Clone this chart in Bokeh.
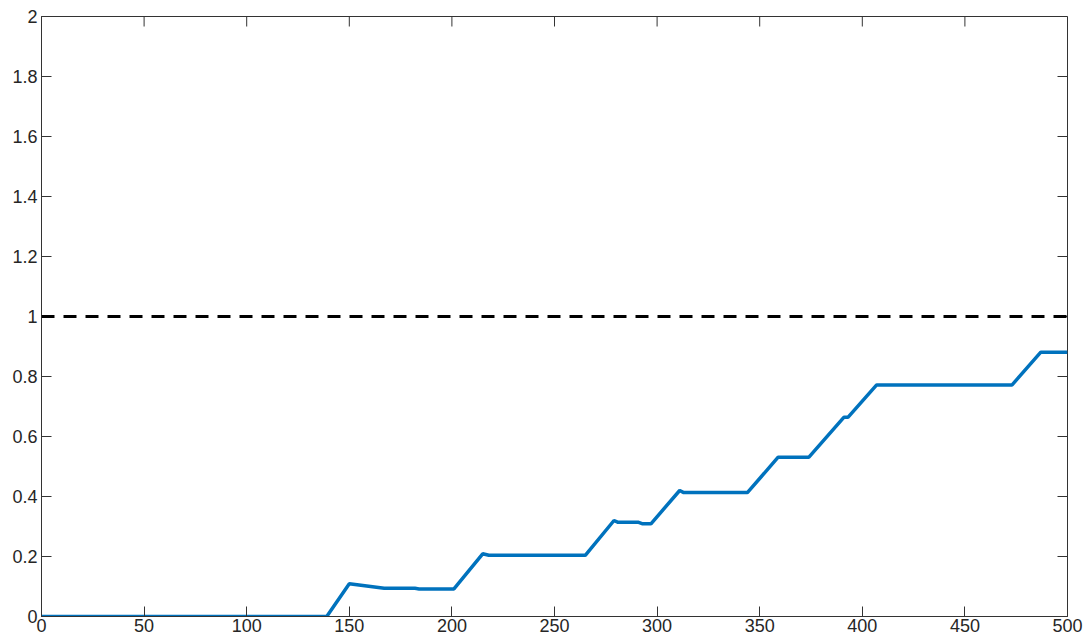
import math
from bokeh.plotting import figure
from bokeh.models import LinearAxis, FixedTicker, Span
from bokeh.embed import file_html
from bokeh.resources import INLINE

# data
x_vals = [0, 139, 150, 167, 182, 184, 201, 215, 218, 265, 279, 281, 291, 293, 297,
          311, 313, 344, 359, 374, 391, 393, 407, 473, 487, 500]
y_vals = [0, 0, 0.109, 0.094, 0.094, 0.092, 0.092, 0.209, 0.204, 0.204, 0.32, 0.314,
          0.314, 0.309, 0.309, 0.42, 0.413, 0.413, 0.531, 0.531, 0.664, 0.664, 0.772,
          0.772, 0.881, 0.881]
threshold = 1.0
x_ticks = [0, 50, 100, 150, 200, 250, 300, 350, 400, 450, 500]
y_ticks = [0, 0.2, 0.4, 0.6, 0.8, 1, 1.2, 1.4, 1.6, 1.8, 2]
y_labels = {0: "0", 0.2: "0.2", 0.4: "0.4", 0.6: "0.6", 0.8: "0.8", 1: "1",
            1.2: "1.2", 1.4: "1.4", 1.6: "1.6", 1.8: "1.8", 2: "2"}
X_MIN, X_MAX = 0, 500
Y_MIN, Y_MAX = 0, 2

AX = "#333333"
TXT = "#262626"
FONT = "Liberation Sans"
TICK_LEN = 10

p = figure(width=1085, height=639, x_range=(X_MIN, X_MAX), y_range=(Y_MIN, Y_MAX),
           output_backend="svg", toolbar_location=None,
           x_axis_type=None, y_axis_type=None,
           min_border_left=41, min_border_right=18, min_border_top=16,
           min_border_bottom=23)
p.grid.visible = False
p.outline_line_color = AX
p.outline_line_width = 1
p.background_fill_color = "white"
p.border_fill_color = "white"

def style(ax):
    ax.axis_line_color = AX
    ax.major_tick_line_color = AX
    ax.major_tick_in = TICK_LEN
    ax.major_tick_out = 0
    ax.minor_tick_line_color = None
    ax.major_label_text_color = TXT
    ax.major_label_text_font = FONT
    ax.major_label_text_font_size = "18px"
    ax.major_label_standoff = 4

xb = LinearAxis(ticker=FixedTicker(ticks=x_ticks))
style(xb)
xb.major_label_standoff = 2
p.add_layout(xb, "below")

yl = LinearAxis(ticker=FixedTicker(ticks=y_ticks))
yl.major_label_overrides = y_labels
style(yl)
p.add_layout(yl, "left")

# mirrored tick marks on the top and right edges of the box
p.ray(x=x_ticks, y=[Y_MAX] * len(x_ticks), length=TICK_LEN, angle=-math.pi / 2,
      length_units="screen", line_color=AX, line_width=1)
p.ray(x=[X_MAX] * len(y_ticks), y=y_ticks, length=TICK_LEN, angle=math.pi,
      length_units="screen", line_color=AX, line_width=1)

p.add_layout(Span(location=threshold, dimension="width", line_color="black",
                  line_width=2.8, line_dash="13 9"))

p.line(x_vals, y_vals, line_color="#0072BD", line_width=3.5)

open("out.html", "w").write(file_html(p, INLINE))
